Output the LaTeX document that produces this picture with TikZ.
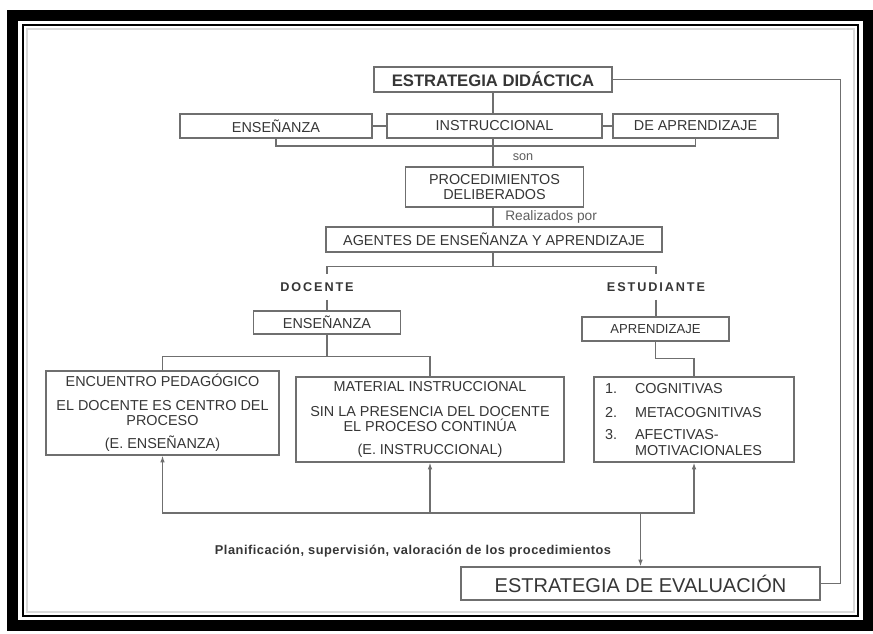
\documentclass[tikz,border=0pt]{standalone}
\usepackage{fontspec}
\setmainfont{Liberation Sans}
\newfontfamily\espaciada[LetterSpace=15]{Liberation Sans}
\usepackage{tikz}
\usetikzlibrary{arrows.meta,positioning,calc}
\definecolor{linea}{HTML}{6F6F6F}
\definecolor{texto}{HTML}{363636}

\begin{document}
\begin{tikzpicture}[x=0.75pt,y=-0.75pt,
    caja/.style={draw=linea,line width=1.1pt,text=texto,align=center,inner sep=0pt,
                 font=\fontsize{10.8}{11.5}\selectfont},
    tam/.style 2 args={minimum width=#1*0.75pt,minimum height=#2*0.75pt},
    conector/.style={draw=linea,line width=0.9pt},
    flecha/.style={conector,-{Latex[length=5pt,width=3.5pt]}},
    etiqueta/.style={text=texto!80,inner sep=0pt,font=\fontsize{10.3}{12}\selectfont},
    grupo/.style={text=texto,inner sep=0pt,minimum height=25*0.75pt,
                  font=\espaciada\bfseries\fontsize{9.5}{11}\selectfont}]
    \useasboundingbox (0,0) rectangle (873,634);
    \fill[white] (0,0) rectangle (873,634);
    %% marco doble
    \draw[line width=8.25pt] (12,16) rectangle (868,625);
    \draw[line width=1.9pt] (23,25) rectangle (858,616);
    \draw[black!15,line width=2pt] (27,29) rectangle (854,612); % sombra

    %% nivel superior
    \node[caja,tam={238}{25},font=\bfseries\fontsize{12.5}{14}\selectfont] (dida) at (493,79.5) {ESTRATEGIA DIDÁCTICA};
    \node[caja,tam={192}{24}] (ens) at (276,126) {ENSEÑANZA};
    \node[caja,tam={215}{24}] (ins) at (494.5,126) {INSTRUCCIONAL};
    \node[caja,tam={165}{24}] (apr) at (695.5,126) {DE APRENDIZAJE};
    \node[caja,tam={178}{40}] (proc) at (494.5,187) {PROCEDIMIENTOS\\DELIBERADOS};
    \node[caja,tam={336}{25}] (agen) at (494,239.5) {AGENTES DE ENSEÑANZA Y APRENDIZAJE};
    \node[etiqueta,font=\fontsize{9.5}{11}\selectfont] (son) at (523,157) {son};
    \node[etiqueta,anchor=west] (real) at (505,217) {Realizados por};

    %% docente y estudiante
    \node[grupo] (doc) at (317,287) {DOCENTE};
    \node[grupo] (est) at (656,287) {ESTUDIANTE};
    \node[caja,tam={147}{23}] (ens2) at (327,322.5) {ENSEÑANZA};
    \node[caja,tam={147}{24},font=\fontsize{9.8}{11}\selectfont] (aprz) at (655.5,329) {APRENDIZAJE};

    %% estrategias
    \node[caja,tam={233}{84}] (encu) at (162.5,413)
        {ENCUENTRO PEDAGÓGICO\\[6pt]EL DOCENTE ES CENTRO DEL\\PROCESO\\[6pt](E. ENSEÑANZA)};
    \node[caja,tam={268}{85}] (mat) at (430,419.5)
        {MATERIAL INSTRUCCIONAL\\[7pt]SIN LA PRESENCIA DEL DOCENTE\\EL PROCESO CONTINÚA\\[6pt](E. INSTRUCCIONAL)};
    \node[caja,tam={200}{85},align=left,inner xsep=11*0.75pt,text width=178*0.75pt] (list) at (694,419.5)
        {\makebox[22.5pt][l]{1.}COGNITIVAS\\[6.5pt]
         \makebox[22.5pt][l]{2.}METACOGNITIVAS\\[5pt]
         \makebox[22.5pt][l]{3.}AFECTIVAS-\\
         \hspace*{22.5pt}MOTIVACIONALES};
    \node[caja,tam={359}{33},font=\fontsize{15}{17}\selectfont] (eval) at (640.5,583.5) {ESTRATEGIA DE EVALUACIÓN};
    \node[text=texto,inner sep=0pt,font=\bfseries\addfontfeature{LetterSpace=4}\fontsize{9.6}{11}\selectfont] (plan) at (413,551)
        {Planificación, supervisión, valoración de los procedimientos};

    %% conectores superiores
    \draw[conector] (dida.south) -- (dida.south |- ins.north);
    \draw[conector] (ens.east) -- (ins.west);
    \draw[conector] (ins.east) -- (apr.west);
    \coordinate (j1) at (494,146);
    \draw[conector] (ens.south) |- (j1) -| (apr.south);
    \draw[conector] (ins.south -| dida.south) -- (proc.north -| dida.south);
    \draw[conector] (proc.south -| dida.south) -- (agen.north -| dida.south);

    %% agentes
    \draw[conector] (agen.south -| dida.south) -- ++(0,14) coordinate (j2);
    \draw[conector] (j2) -| (ens2.north |- doc.north);
    \draw[conector] (j2) -| (est.north);
    \draw[conector] (ens2.north |- doc.south) -- (ens2.north);
    \draw[conector] (est.south) -- (est.south |- aprz.north);

    %% ramas inferiores
    \draw[conector] (ens2.south) -- ++(0,22) coordinate (j3);
    \foreach \hijo in {encu,mat}{
        \draw[conector] (j3) -| (\hijo.north);
    }
    \draw[conector] (aprz.south) -- ++(0,17) -| (list.north);

    %% evaluacion
    \coordinate (j4) at (640.5,513);
    \foreach \hijo in {encu,mat,list}{ %flechas hacia cada estrategia
        \draw[flecha] (j4) -| (\hijo.south);
    }
    \draw[flecha] (j4) -- (eval.north);
    \draw[conector] (eval.east) -- ++(20,0) |- (dida.east);
\end{tikzpicture}
\end{document}
